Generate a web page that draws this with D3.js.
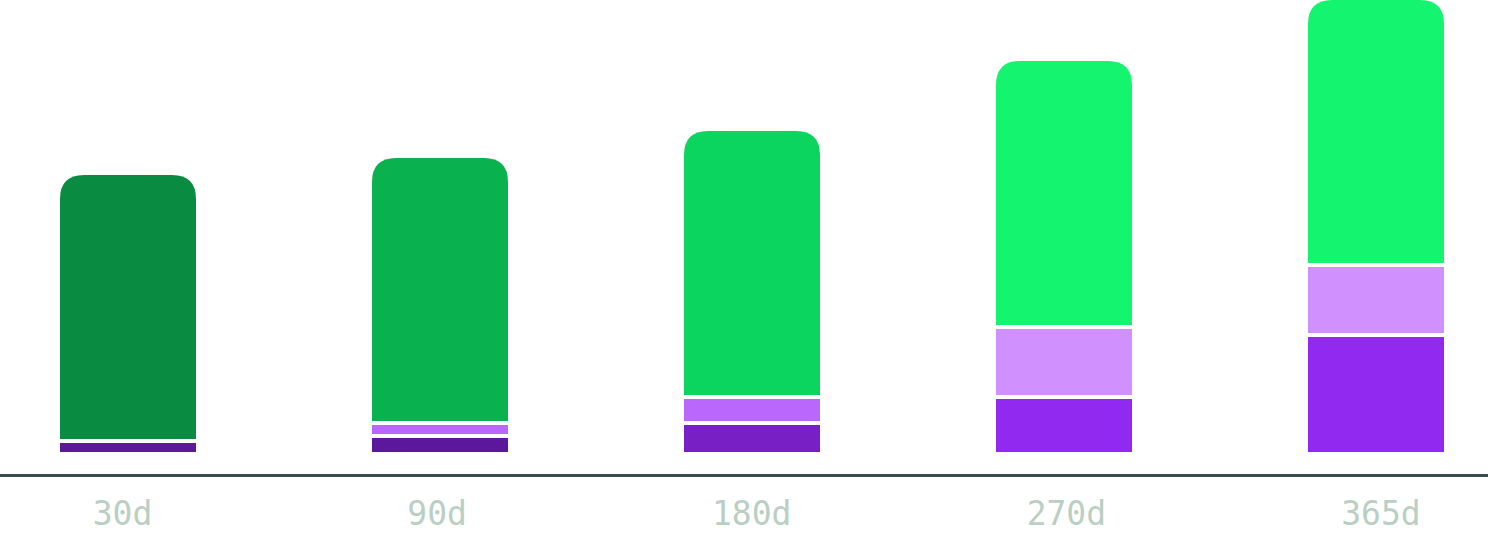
<!DOCTYPE html>
<html>
<head>
<meta charset="utf-8">
<script src="https://cdn.jsdelivr.net/npm/d3@7"></script>
<style>
  html, body { margin: 0; padding: 0; background: #ffffff; }
</style>
</head>
<body>
<div id="chart"></div>
<script>
// Chart data
let periods = ["30d", "90d", "180d", "270d", "365d"];
let baseVals = [13, 18, 31, 57, 119];     // bottom (dark purple)
let midVals = [0, 13, 26, 70, 70];        // middle (light purple)
let topVals = [264, 263, 264, 264, 263];  // top (green)

let baseColors = ["#5c1a9b", "#5c189c", "#781fc6", "#9129f1", "#9129f1"];
let midColors = ["#b967fd", "#b967fd", "#b967fd", "#d090fd", "#d090fd"];
let topColors = ["#098c41", "#0ab24f", "#0cd55f", "#15f46f", "#15f46f"];

let width = 1488, height = 535;
let gap = 4, radius = 24;

let svg = d3.select("#chart")
    .append("svg")
    .attr("width", width)
    .attr("height", height);

// x scale for bars
let x = d3.scaleBand()
    .domain(periods)
    .range([60, 1444])
    .paddingInner(176 / 312)
    .paddingOuter(0);

// labels sit on a slightly wider spread
let xLabel = d3.scalePoint()
    .domain(periods)
    .range([122.5, 1381]);

let y = d3.scaleLinear()
    .domain([0, 452])
    .range([452, 0]);

// build stack rows
let rows = periods.map((p, i) => ({period: p, base: baseVals[i], mid: midVals[i], top: topVals[i]}));
let keys = ["base", "mid", "top"];
let colorFor = {base: baseColors, mid: midColors, top: topColors};
let stacked = d3.stack().keys(keys)(rows);

// path for a rect with rounded top corners only
function topRounded(x0, y0, w, h, r) {
    r = Math.min(r, h, w / 2);
    return `M${x0},${y0 + h}` +
        `V${y0 + r}` +
        `Q${x0},${y0} ${x0 + r},${y0}` +
        `H${x0 + w - r}` +
        `Q${x0 + w},${y0} ${x0 + w},${y0 + r}` +
        `V${y0 + h}Z`;
}

stacked.forEach(layer => {
    let isTop = layer.key === "top";
    layer.forEach((d, i) => {
        if (d[1] - d[0] <= 0) return;
        // white gap sits above every segment except the green one
        let yTop = isTop ? y(d[1]) : y(d[1]) + gap;
        let yBot = y(d[0]);
        let h = yBot - yTop;
        if (h <= 0) return;
        let fill = colorFor[layer.key][i];
        if (isTop) {
            svg.append("path")
                .attr("d", topRounded(x(d.data.period), yTop, x.bandwidth(), h, radius))
                .attr("fill", fill);
        } else {
            svg.append("rect")
                .attr("x", x(d.data.period))
                .attr("y", yTop)
                .attr("width", x.bandwidth())
                .attr("height", h)
                .attr("fill", fill);
        }
    });
});

// Baseline
svg.append("line")
    .attr("x1", 0)
    .attr("x2", width)
    .attr("y1", 475.5)
    .attr("y2", 475.5)
    .attr("stroke", "#3b4a4f")
    .attr("stroke-width", 3);

// Period labels
svg.append("g")
    .selectAll("text")
    .data(periods)
    .enter().append("text")
    .attr("x", d => xLabel(d))
    .attr("y", 525)
    .attr("text-anchor", "middle")
    .style("font-family", "'DejaVu Sans Mono', monospace")
    .style("font-size", "33px")
    .attr("fill", "#b9cfc3")
    .text(d => d);
</script>
</body>
</html>
